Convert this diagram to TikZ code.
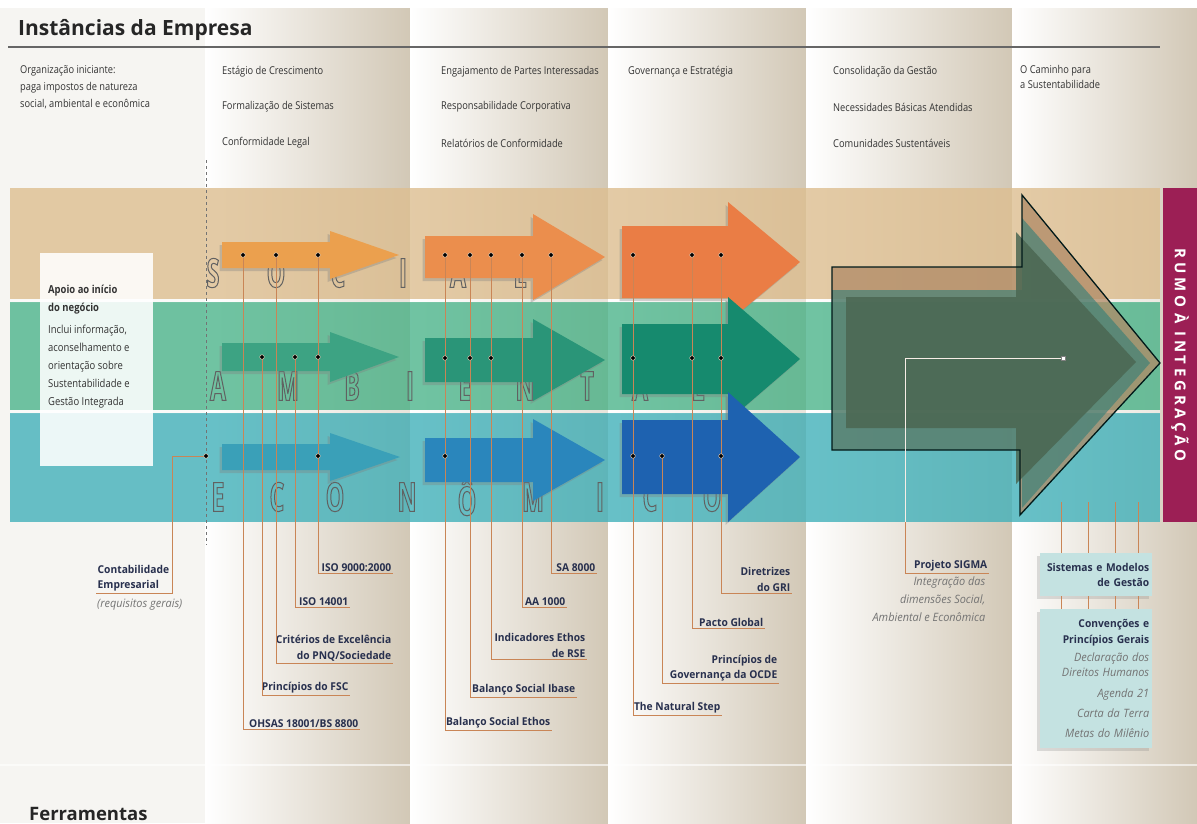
\documentclass[tikz,border=0pt]{standalone}
\usepackage{fontspec}
\setmainfont{Open Sans}[FakeStretch=0.86]
\newfontfamily\titlefont{Open Sans}
\newfontfamily\toolfont{Open Sans}[FakeStretch=0.95]
\newfontfamily\giantfont{Open Sans}[FakeStretch=0.58]
\usetikzlibrary{shadows}

\definecolor{paper}{HTML}{F6F5F2}
\definecolor{beige}{HTML}{D2C8B6}
\definecolor{sand}{HTML}{DDBE90}
\definecolor{leaf}{HTML}{4DB58C}
\definecolor{lagoon}{HTML}{42B1BA}
\definecolor{wine}{HTML}{9C1F55}
\definecolor{ink}{HTML}{28304E}
\definecolor{stagec}{HTML}{333333}
\definecolor{leadc}{HTML}{C98556}
\definecolor{boxc}{HTML}{C4E2E1}
\definecolor{orA}{HTML}{EBA04E}
\definecolor{orB}{HTML}{EB8E4D}
\definecolor{orC}{HTML}{EA7D45}
\definecolor{grA}{HTML}{3DA383}
\definecolor{grB}{HTML}{2A9578}
\definecolor{grC}{HTML}{168A6E}
\definecolor{blA}{HTML}{3AA0B8}
\definecolor{blB}{HTML}{2A86BC}
\definecolor{blC}{HTML}{1E62B0}
\definecolor{mossA}{HTML}{B08A66}
\definecolor{mossB}{HTML}{2F7E78}
\definecolor{mossC}{HTML}{4B6752}

% outlined glyphs (pdf text render mode 1)
\newcommand{\hollow}[1]{\special{pdf:literal direct 1 Tr 1 w}#1\special{pdf:literal direct 0 Tr}}
\newcommand{\lbl}{\fontsize{10.8}{13}\selectfont}
\newcommand{\tl}{\toolfont\fontsize{10.8}{15.5}\selectfont\bfseries}
\newcommand{\note}{\toolfont\fontsize{11.5}{18}\selectfont\itshape}

% [style] tail x, neck x, tip x, mid y, body half height, head half height
\newcommand{\flatarrow}[7][]{%
  \path[#1] (#2,#5-#6) -- (#3,#5-#6) -- (#3,#5-#7) -- (#4,#5)
    -- (#3,#5+#7) -- (#3,#5+#6) -- (#2,#5+#6) -- cycle;}

\tikzset{dot/.style={circle,fill=black,draw=white!80!orange,line width=.4pt,inner sep=0pt,minimum size=4.6pt},
         leader/.style={draw=leadc,line width=.7pt},
         stage/.style={font=\lbl,text=stagec,anchor=west,inner sep=0pt,align=left},
         tool/.style={font=\tl,text=ink,anchor=south east,inner sep=1.5pt,align=right},
         bigletter/.style={font=\giantfont\bfseries\fontsize{40}{40}\selectfont,text=black!62,inner sep=0pt},
         shade arrow/.style={drop shadow={shadow xshift=-2.5pt,shadow yshift=-3pt,opacity=.35}},
         }

\begin{document}
\begin{tikzpicture}[x=1pt,y=-1pt]
\useasboundingbox (0,0) rectangle (1197,823);

% columns
\fill[paper] (0,0) rectangle (1197,823);
\foreach \a/\b in {205/410,410/608,608/806,806/1012,1012/1197}
  \shade[left color=white,middle color=beige!45!white,right color=beige] (\a,8) rectangle (\b,823);
\fill[white] (0,0) rectangle (1197,8);
\fill[white,opacity=.6] (0,764) rectangle (1197,766);

% title and rule
\node[anchor=west,inner sep=0pt,text=black!85] (title) at (18,30)
  {\titlefont\bfseries\fontsize{21}{21}\selectfont Instâncias da Empresa};
\draw[line width=1.8pt,black!60] (8,47) -- (1160,47);
\node[anchor=base west,inner sep=0pt,text=black!85] (tools) at (29,820)
  {\titlefont\bfseries\fontsize{18.5}{18.5}\selectfont Ferramentas};

% stages
\node[stage,anchor=north west,font=\fontsize{10.8}{17}\selectfont] (st1) at (20,65)
  {Organização iniciante:\\paga impostos de natureza\\social, ambiental e econômica};
\node[stage] (st21) at (222,72) {Estágio de Crescimento};
\node[stage] (st22) at (222,107) {Formalização de Sistemas};
\node[stage] (st23) at (222,143) {Conformidade Legal};
\node[stage] (st31) at (441,72) {Engajamento de Partes Interessadas};
\node[stage] (st32) at (441,107) {Responsabilidade Corporativa};
\node[stage] (st33) at (441,143) {Relatórios de Conformidade};
\node[stage] (st41) at (628,72) {Governança e Estratégia};
\node[stage] (st51) at (833,72) {Consolidação da Gestão};
\node[stage] (st52) at (833,107) {Necessidades Básicas Atendidas};
\node[stage] (st53) at (833,143) {Comunidades Sustentáveis};
\node[stage,anchor=north west,font=\fontsize{10.8}{15}\selectfont] (st61) at (1020,65)
  {O Caminho para\\a Sustentabilidade};

% dimension bands
\fill[sand,opacity=.8] (10,188) rectangle (1160,299);
\fill[leaf,opacity=.8] (10,302) rectangle (1160,410);
\fill[lagoon,opacity=.8] (10,413) rectangle (1160,522);
\fill[white,opacity=.5] (10,299) rectangle (1160,302) (10,410) rectangle (1160,413);
\fill[wine] (1163,188) rectangle (1197,522);
\node[rotate=-90,text=white,font=\titlefont\bfseries\fontsize{15}{15}\selectfont\addfontfeature{LetterSpace=25}]
  (rumo) at (1180,355) {RUMO\hspace{7pt}À\hspace{7pt}INTEGRAÇÃO};

% start-up support
\fill[white,opacity=.88] (40,253) rectangle (153,466);
\node[stage,anchor=north west,font=\fontsize{11}{18}\selectfont] (apoio) at (48,285)
  {\textbf{Apoio ao início}\\\textbf{do negócio}\\[4pt]Inclui informação,\\aconselhamento e\\orientação sobre\\Sustentabilidade e\\Gestão Integrada};

\draw[dashed,black!55,line width=.6pt] (206,160) -- (206,545);

% outlined words
\foreach \ch/\x [count=\i] in {S/213,O/276,C/338,I/403,A/458,L/520}
  \node[bigletter] (soc\i) at (\x,273) {\hollow{\ch}};
\foreach \ch/\x [count=\i] in {A/218,M/288,B/352,I/410,E/465,N/525,T/587,A/640,L/698}
  \node[bigletter] (amb\i) at (\x,386) {\hollow{\ch}};
\foreach \ch/\x [count=\i] in {E/218,C/277,O/335,N/407,Ô/467,M/533,I/600,C/650,O/712}
  \node[bigletter] (eco\i) at (\x,497) {\hollow{\ch}};

% arrows, growing stage by stage
\flatarrow[fill=orA,shade arrow]{222}{330}{399}{255}{13}{24}
\flatarrow[fill=grA,shade arrow]{222}{330}{399}{357}{14}{25}
\flatarrow[fill=blA,shade arrow]{222}{330}{400}{457}{13}{24}
\flatarrow[fill=orB,shade arrow]{425}{533}{605}{257}{21}{43}
\flatarrow[fill=grB,shade arrow]{425}{533}{605}{360}{22}{41}
\flatarrow[fill=blB,shade arrow]{425}{533}{605}{460}{22}{41}
\flatarrow[fill=orC,shade arrow]{622}{728}{800}{262}{36}{60}
\flatarrow[fill=grC,shade arrow]{622}{728}{800}{359}{35}{62}
\flatarrow[fill=blC,shade arrow]{622}{728}{800}{457}{37}{65}

% integrated arrow: three layers under one outline
\path[fill=mossA,opacity=.75] (832,267) -- (1022,267) -- (1022,195) -- (1160,363)
  -- (1020,515) -- (1020,450) -- (832,450) -- cycle;
\path[fill=mossB,opacity=.6] (832,290) -- (1022,290) -- (1022,218) -- (1150,363)
  -- (1022,508) -- (1022,450) -- (832,450) -- cycle;
\path[fill=mossC,opacity=.85] (846,297) -- (1016,297) -- (1016,232) -- (1136,362)
  -- (1016,484) -- (1016,428) -- (846,428) -- cycle;
\draw[line width=1.3pt,black!80!teal,line join=miter] (832,267) -- (1022,267) -- (1022,195) -- (1160,363)
  -- (1020,515) -- (1020,450) -- (832,450) -- cycle;

% tool dots
\foreach \n/\x/\y in {s21/243/255,s22/276/255,s23/318/255,a21/262/357,a22/295/357,a23/318/357,
    e21/318/456,e20/206/456,
    s31/445/255,s32/470/255,s33/491/255,s34/522/255,s35/551/255,a31/445/358,a32/470/358,a33/491/358,e31/445/456,
    s41/633/255,s42/692/255,s43/721/255,a41/633/358,a42/692/358,a43/721/358,e41/633/456,e42/662/456,e43/721/456}
  \coordinate (\n) at (\x,\y);
\node[rectangle,fill=white,draw=black!50,inner sep=0pt,minimum size=4.5pt] (sig) at (1063,358) {};

% tool labels
\node[tool,anchor=south west,align=left] (contab) at (96,593) {Contabilidade\\Empresarial};
\node[stage,anchor=north west,font=\note,text=black!55] (geral) at (97,599) {(requisitos gerais)};
\node[tool] (iso9) at (393,573) {ISO 9000:2000};
\node[tool] (iso14) at (350,607) {ISO 14001};
\node[tool] (pnq) at (393,663) {Critérios de Excelência\\do PNQ/Sociedade};
\node[tool] (fsc) at (350,695) {Princípios do FSC};
\node[tool] (ohsas) at (360,729) {OHSAS 18001/BS 8800};
\node[tool] (sa) at (597,573) {SA 8000};
\node[tool] (aa) at (567,607) {AA 1000};
\node[tool] (ethos) at (587,659) {Indicadores Ethos\\de RSE};
\node[tool] (ibase) at (577,697) {Balanço Social Ibase};
\node[tool] (bse) at (552,730) {Balanço Social Ethos};
\node[tool] (gri) at (792,593) {Diretrizes\\do GRI};
\node[tool] (pacto) at (765,628) {Pacto Global};
\node[tool] (ocde) at (779,683) {Princípios de\\Governança da OCDE};
\node[tool] (tns) at (722,715) {The Natural Step};
\node[tool] (sigma) at (989,573) {Projeto SIGMA};
\node[tool,anchor=north east,font=\note,text=black!55] (sigmatxt) at (987,575)
  {Integração das\\dimensões Social,\\Ambiental e Econômica};

% leaders
\coordinate (cbend) at (172,456);
\draw[leader] (e20) -- (cbend) |- (contab.south west);
\draw[leader] (s21) |- (ohsas.south east);
\draw[leader] (a21) |- (fsc.south east);
\draw[leader] (s22) |- (pnq.south east);
\draw[leader] (a22) |- (iso14.south east);
\draw[leader] (s23) |- (iso9.south east);
\draw[leader] (s31) |- (bse.south east);
\draw[leader] (s32) |- (ibase.south east);
\draw[leader] (s33) |- (ethos.south east);
\draw[leader] (s34) |- (aa.south east);
\draw[leader] (s35) |- (sa.south east);
\draw[leader] (s41) |- (tns.south east);
\draw[leader] (e42) |- (ocde.south east);
\draw[leader] (s42) |- (pacto.south east);
\draw[leader] (s43) |- (gri.south east);
\coordinate (sigknee) at (905,522);
\draw[leader,draw=white!85!leadc] (sig) -| (sigknee);
\draw[leader] (sigknee) |- (sigma.south east);

\foreach \n in {s21,s22,s23,a21,a22,a23,e21,e20,s31,s32,s33,s34,s35,a31,a32,a33,e31,
    s41,s42,s43,a41,a42,a43,e41,e42,e43}
  \node[dot] at (\n) {};

% management systems
\node[tool,anchor=north west,fill=boxc,text width=106pt,inner xsep=3pt,inner ysep=4pt,
  minimum height=43pt,drop shadow={shadow xshift=-3pt,shadow yshift=-3pt,opacity=.25}]
  (sysbox) at (1040,553) {Sistemas e Modelos\\de Gestão};
\node[tool,anchor=north west,fill=boxc,text width=106pt,inner xsep=3pt,inner ysep=4pt,
  minimum height=139pt,drop shadow={shadow xshift=-3pt,shadow yshift=-3pt,opacity=.25}]
  (convbox) at (1040,609) {Convenções e\\Princípios Gerais\\[3pt]
  \note\mdseries\color{black!55}\baselineskip=15pt Declaração dos\\Direitos Humanos\\[6pt]Agenda 21\\[5pt]Carta da Terra\\[5pt]Metas do Milênio};
\foreach \x [count=\i] in {1061,1088,1115,1138} {
  \coordinate (c6\i) at (\x,502);
  \draw[leader] (c6\i) -- (c6\i |- sysbox.north);
  \draw[leader] (c6\i |- sysbox.south) -- (c6\i |- convbox.north);
}
\end{tikzpicture}
\end{document}
